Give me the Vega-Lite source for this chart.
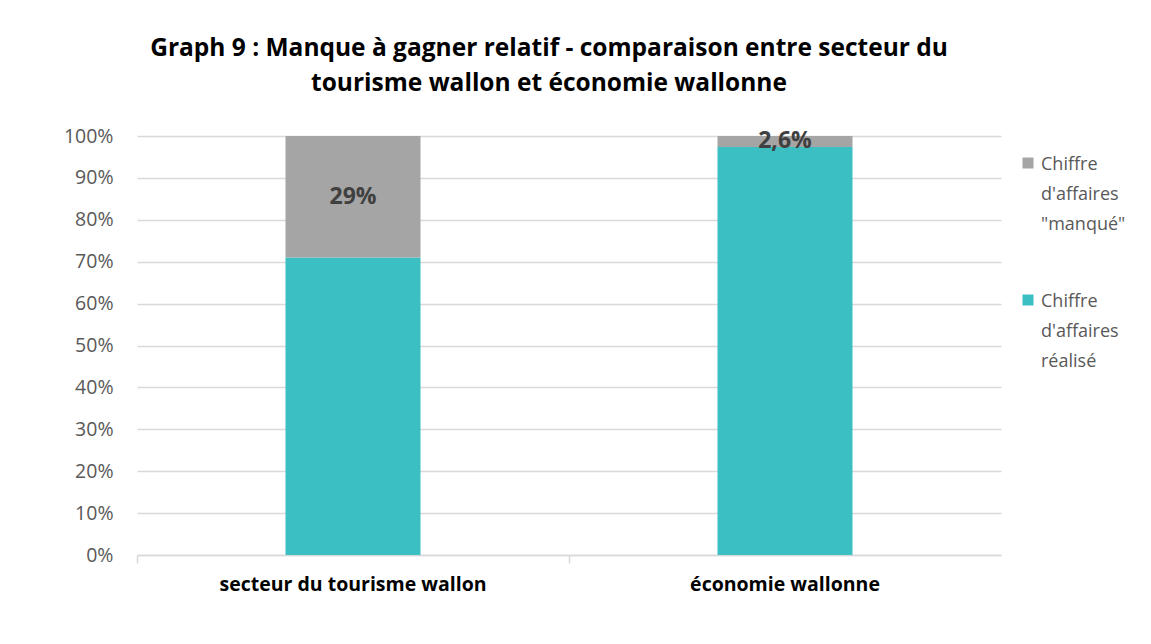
{
  "$schema": "https://vega.github.io/schema/vega-lite/v6.json",
  "width": 864,
  "height": 419,
  "autosize": {"type": "none"},
  "padding": {"left": 137, "top": 136, "right": 150, "bottom": 89},
  "background": "white",
  "title": {
    "text": ["Graph 9 : Manque à gagner relatif  - comparaison entre secteur du", "tourisme wallon et économie wallonne"],
    "font": "Open Sans",
    "fontSize": 24.5,
    "fontWeight": "bold",
    "color": "#000000",
    "lineHeight": 35,
    "anchor": "middle",
    "dx": -20,
    "offset": 30
  },
  "data": {
    "values": [
      {"secteur": "secteur du tourisme wallon", "serie": "Chiffre|d'affaires|réalisé", "valeur": 0.71, "ordre": 1, "etiquette": ""},
      {"secteur": "secteur du tourisme wallon", "serie": "Chiffre|d'affaires|\"manqué\"", "valeur": 0.29, "ordre": 2, "etiquette": "29%"},
      {"secteur": "économie wallonne", "serie": "Chiffre|d'affaires|réalisé", "valeur": 0.974, "ordre": 1, "etiquette": ""},
      {"secteur": "économie wallonne", "serie": "Chiffre|d'affaires|\"manqué\"", "valeur": 0.026, "ordre": 2, "etiquette": "2,6%"}
    ]
  },
  "encoding": {
    "x": {
      "field": "secteur",
      "type": "nominal",
      "sort": ["secteur du tourisme wallon", "économie wallonne"],
      "scale": {"paddingInner": 0, "paddingOuter": 0},
      "axis": {
        "title": null,
        "labelAngle": 0,
        "labelFont": "Open Sans",
        "labelFontSize": 19.5,
        "labelFontWeight": "bold",
        "labelColor": "#000000",
        "labelPadding": 12,
        "labelLimit": 400,
        "bandPosition": 0,
        "ticks": true,
        "tickSize": 8,
        "tickColor": "#d9d9d9",
        "tickWidth": 1.5,
        "domainColor": "#d9d9d9",
        "domainWidth": 1.5,
        "grid": false
      }
    },
    "y": {
      "field": "valeur",
      "type": "quantitative",
      "stack": "zero",
      "scale": {"domain": [0, 1]},
      "axis": {
        "title": null,
        "format": ".0%",
        "values": [0, 0.1, 0.2, 0.3, 0.4, 0.5, 0.6, 0.7, 0.8, 0.9, 1],
        "labelOverlap": false,
        "labelFont": "Open Sans",
        "labelFontSize": 19.5,
        "labelColor": "#595959",
        "labelPadding": 24,
        "ticks": false,
        "domain": false,
        "grid": true,
        "gridColor": "#d9d9d9",
        "gridWidth": 1.5
      }
    },
    "order": {"field": "ordre", "type": "quantitative"}
  },
  "layer": [
    {
      "mark": {"type": "bar", "width": {"band": 0.3125}},
      "encoding": {
        "color": {
          "field": "serie",
          "type": "nominal",
          "sort": ["Chiffre|d'affaires|\"manqué\"", "Chiffre|d'affaires|réalisé"],
          "scale": {
            "domain": ["Chiffre|d'affaires|\"manqué\"", "Chiffre|d'affaires|réalisé"],
            "range": ["#a5a5a5", "#3bbfc3"]
          },
          "legend": {
            "title": null,
            "orient": "none",
            "legendX": 882,
            "legendY": 18,
            "symbolType": "square",
            "symbolSize": 121,
            "symbolStrokeWidth": 0,
            "labelExpr": "split(datum.label, '|')",
            "labelFont": "Open Sans",
            "labelFontSize": 18,
            "labelColor": "#595959",
            "labelBaseline": "top",
            "labelOffset": 4,
            "labelLimit": 200,
            "rowPadding": 57,
            "encode": {"labels": {"update": {"dy": {"value": -7}}}}
          }
        }
      }
    },
    {
      "mark": {"type": "text", "font": "Open Sans", "fontSize": 23, "fontWeight": "bold", "color": "#404040", "baseline": "middle"},
      "encoding": {
        "y": {"field": "valeur", "type": "quantitative", "stack": "zero", "bandPosition": 0.5},
        "text": {"field": "etiquette"}
      }
    }
  ],
  "config": {
    "view": {"stroke": null},
    "style": {"guide-label": {"lineHeight": 30}}
  }
}
